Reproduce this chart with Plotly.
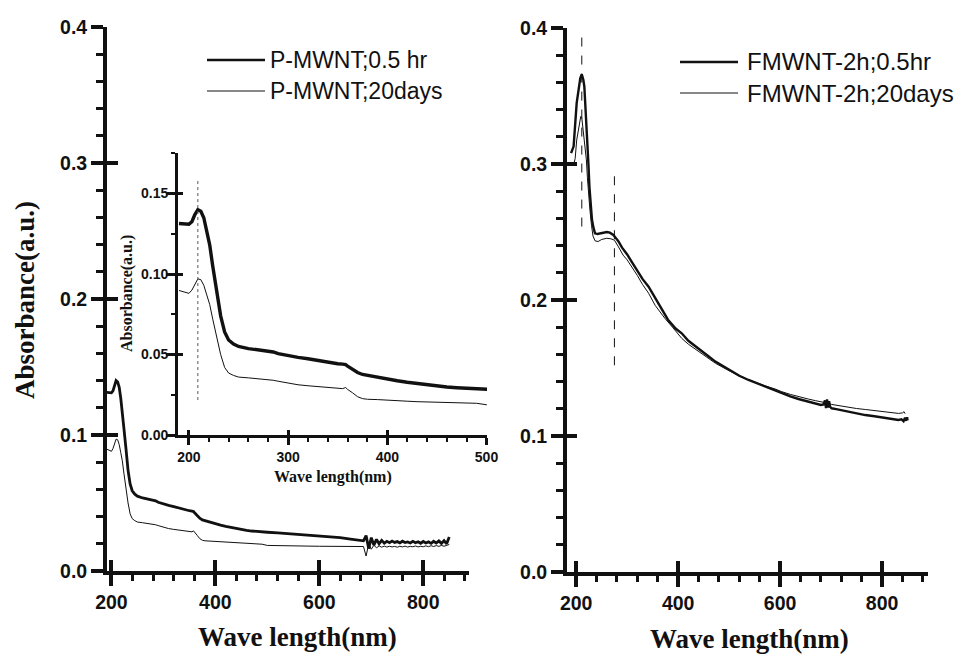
import plotly.graph_objects as go

# ---------------- data ----------------
# P-MWNT (left panel and inset)
wl_p = [190, 195, 200, 203, 206, 209, 212, 215, 218, 221, 224, 228, 232, 236, 240, 245, 250,
        260, 270, 280, 285, 290, 300, 310, 320, 330, 340, 350, 355, 358, 360, 365, 370, 375, 380,
        390, 400, 410, 420, 430, 440, 450, 460, 470, 480, 490, 500, 520, 540, 560, 580, 600,
        620, 640, 660, 680, 685, 690, 695, 700, 705, 710, 715, 720, 725, 730, 735, 740, 745,
        750, 755, 760, 765, 770, 775, 780, 785, 790, 795, 800, 805, 810, 815, 820, 825, 830,
        835, 840, 845, 850]
p_05hr = [0.1314, 0.1310, 0.1310, 0.1325, 0.1370, 0.1400, 0.1390, 0.1350, 0.1270, 0.1180,
          0.1050, 0.0900, 0.0740, 0.0640, 0.0590, 0.0565, 0.0550,
          0.0537, 0.0527, 0.0520, 0.0516, 0.0505, 0.0492, 0.0482, 0.0474, 0.0462, 0.0452,
          0.0443, 0.0440, 0.0437, 0.0428, 0.0408, 0.0388, 0.0376, 0.0370,
          0.0360, 0.0347, 0.0337, 0.0328, 0.0320, 0.0311, 0.0303, 0.0298, 0.0294, 0.0290,
          0.0288, 0.0285, 0.0280, 0.0275, 0.0270, 0.0265, 0.0260,
          0.0252, 0.0245, 0.0235, 0.0225, 0.0222, 0.0260, 0.0165, 0.0245, 0.0190, 0.0232,
          0.0200, 0.0225, 0.0205, 0.0218, 0.0208, 0.0220, 0.0210,
          0.0216, 0.0207, 0.0219, 0.0209, 0.0214, 0.0206, 0.0218, 0.0208, 0.0215, 0.0204,
          0.0217, 0.0206, 0.0214, 0.0203, 0.0218, 0.0205, 0.0221,
          0.0203, 0.0224, 0.0200, 0.0250]
p_20days = [0.0898, 0.0890, 0.0880, 0.0900, 0.0940, 0.0970, 0.0965, 0.0930, 0.0870, 0.0810,
            0.0720, 0.0600, 0.0500, 0.0420, 0.0385, 0.0370, 0.0360,
            0.0355, 0.0350, 0.0344, 0.0340, 0.0334, 0.0322, 0.0312, 0.0306, 0.0301, 0.0296,
            0.0291, 0.0288, 0.0295, 0.0283, 0.0262, 0.0238, 0.0226, 0.0222,
            0.0220, 0.0218, 0.0213, 0.0210, 0.0207, 0.0205, 0.0204, 0.0202, 0.0200, 0.0198,
            0.0197, 0.0188, 0.0188, 0.0185, 0.0184, 0.0183, 0.0182,
            0.0181, 0.0180, 0.0180, 0.0178, 0.0180, 0.0110, 0.0200, 0.0160, 0.0190, 0.0170,
            0.0185, 0.0175, 0.0183, 0.0176, 0.0182, 0.0177, 0.0181,
            0.0175, 0.0182, 0.0177, 0.0183, 0.0176, 0.0181, 0.0178, 0.0184, 0.0177, 0.0182,
            0.0178, 0.0185, 0.0179, 0.0186, 0.0180, 0.0187, 0.0181,
            0.0188, 0.0182, 0.0189, 0.0195]

# FMWNT-2h (right panel)
wl_f05 = [190, 195, 201, 205, 208, 211, 214, 216, 219, 221, 224, 226, 229, 231, 234, 237, 242,
          247, 253, 260, 266, 273, 278, 283, 290, 300, 309, 320, 330, 342, 355, 368, 380, 395,
          407, 420, 440, 460, 473, 490, 505, 520, 538, 555, 571, 590, 603, 620, 636, 655, 669,
          680, 685, 688, 690, 692, 694, 696, 698, 701, 710, 720, 734, 750, 767, 785, 799, 815,
          832, 838, 842, 845, 847, 849, 850]
f_05hr = [0.308, 0.313, 0.345, 0.356, 0.363, 0.366, 0.362, 0.357, 0.338, 0.320, 0.300, 0.283,
          0.268, 0.259, 0.253, 0.249, 0.2485, 0.249, 0.2495, 0.250, 0.2495, 0.2478, 0.2455,
          0.243, 0.2385, 0.2335, 0.228, 0.2215, 0.2155, 0.2098, 0.2015, 0.1926, 0.1855, 0.1790,
          0.1755, 0.1700, 0.1645, 0.1585, 0.1547, 0.1508, 0.1473, 0.1443, 0.1412, 0.1386,
          0.1363, 0.1337, 0.1314, 0.1292, 0.1272, 0.1255, 0.1240, 0.1228, 0.1232, 0.1262,
          0.1205, 0.1270, 0.1210, 0.1255, 0.1215, 0.1204, 0.1198, 0.1190, 0.1179, 0.1166,
          0.1154, 0.1145, 0.1137, 0.1128, 0.1118, 0.1122, 0.1108, 0.1135, 0.1112, 0.1138, 0.1115]
wl_f20 = [196, 198, 201, 205, 209, 211, 214, 217, 220, 222, 224, 227, 230, 233, 237, 243, 250,
          260, 268, 275, 283, 292, 300, 309, 320, 330, 342, 355, 374, 390, 407, 420, 440, 460,
          473, 490, 505, 520, 538, 555, 571, 590, 603, 620, 636, 655, 669, 685, 690, 695, 701,
          720, 734, 750, 767, 785, 799, 815, 832, 840, 843, 845]
f_20days = [0.301, 0.304, 0.3176, 0.3275, 0.335, 0.334, 0.325, 0.313, 0.303, 0.290, 0.279,
            0.266, 0.255, 0.247, 0.2435, 0.243, 0.2445, 0.2454, 0.2450, 0.244, 0.239, 0.233,
            0.2295, 0.2245, 0.218, 0.2115, 0.205, 0.196, 0.1865, 0.1795, 0.1718, 0.1675, 0.162,
            0.1570, 0.1535, 0.1500, 0.1468, 0.1440, 0.1412, 0.1388, 0.1368, 0.1346, 0.1326,
            0.1306, 0.1288, 0.1272, 0.1260, 0.1248, 0.1254, 0.1240, 0.1232, 0.1219, 0.1210,
            0.1202, 0.1195, 0.1186, 0.1180, 0.1173, 0.1166, 0.1170, 0.1179, 0.1164]

# reference (peak) lines
peak_p = 209
peak_f1 = 211
peak_f2 = 275

labels_left = ["P-MWNT;0.5 hr", "P-MWNT;20days"]
labels_right = ["FMWNT-2h;0.5hr", "FMWNT-2h;20days"]
x_title = "Wave length(nm)"
y_title = "Absorbance(a.u.)"

# ---------------- figure ----------------
W, H = 970, 655
def px(x):
    return x / W
def py(y):
    return (H - y) / H

SANS = "Liberation Sans, Arial, sans-serif"
SERIF = "Liberation Serif, Times New Roman, serif"
BLK = "#111111"

fig = go.Figure()
# left main
fig.add_trace(go.Scatter(x=wl_p, y=p_05hr, mode="lines", line=dict(color=BLK, width=2.8),
                         xaxis="x", yaxis="y", showlegend=False, name=labels_left[0]))
fig.add_trace(go.Scatter(x=wl_p, y=p_20days, mode="lines", line=dict(color=BLK, width=1),
                         xaxis="x", yaxis="y", showlegend=False, name=labels_left[1]))
# right
fig.add_trace(go.Scatter(x=wl_f05, y=f_05hr, mode="lines", line=dict(color=BLK, width=2.4),
                         xaxis="x2", yaxis="y2", showlegend=False, name=labels_right[0]))
fig.add_trace(go.Scatter(x=wl_f20, y=f_20days, mode="lines", line=dict(color=BLK, width=1),
                         xaxis="x2", yaxis="y2", showlegend=False, name=labels_right[1]))
# inset
fig.add_trace(go.Scatter(x=wl_p, y=p_05hr, mode="lines", line=dict(color=BLK, width=3.4),
                         xaxis="x3", yaxis="y3", showlegend=False, name=labels_left[0]))
fig.add_trace(go.Scatter(x=wl_p, y=p_20days, mode="lines", line=dict(color=BLK, width=1),
                         xaxis="x3", yaxis="y3", showlegend=False, name=labels_left[1]))
# dummy traces for overlay (inside-tick) axes
for xa, ya in [("x4", "y4"), ("x5", "y5"), ("x6", "y6")]:
    fig.add_trace(go.Scatter(x=[None], y=[None], xaxis=xa, yaxis=ya, showlegend=False,
                             hoverinfo="skip"))

tickfont_main = dict(family=SANS, size=19.5, color=BLK, weight="bold")
tickfont_inset = dict(family=SANS, size=14, color=BLK, weight="bold")

dom_lx = [px(107), px(469)]
dom_ly = [py(571), py(27)]
dom_rx = [px(567), px(928)]
dom_ry = [py(572), py(28)]
dom_ix = [px(178), px(487)]
dom_iy = [py(435), py(153)]

rng_lx = [191.5, 888]
rng_rx = [182, 890]
rng_ix = [189, 500.5]
rng_y = [0, 0.4]
rng_iy = [0, 0.1752]

LW = 3.8
TW = 3.6

def main_x(domain, rng, anchor):
    return dict(domain=domain, range=rng, anchor=anchor, showline=True, linewidth=LW,
                linecolor=BLK, ticks="outside", ticklen=11, tickwidth=TW, tickcolor=BLK,
                tickvals=[200, 400, 600, 800], tickfont=tickfont_main, showgrid=False,
                zeroline=False, automargin=False,
                minor=dict(dtick=40, tick0=0, ticks="outside", ticklen=6, tickwidth=3,
                           tickcolor=BLK, showgrid=False))

def main_y(domain, anchor):
    return dict(domain=domain, range=rng_y, anchor=anchor, showline=True, linewidth=LW,
                linecolor=BLK, ticks="outside", ticklen=12, tickwidth=TW, tickcolor=BLK,
                tickvals=[0, 0.1, 0.2, 0.3, 0.4], ticktext=["0.0", "0.1", "0.2", "0.3", "0.4"],
                tickfont=tickfont_main, showgrid=False, zeroline=False, automargin=False,
                minor=dict(dtick=0.02, tick0=0, ticks="outside", ticklen=7, tickwidth=3,
                           tickcolor=BLK, showgrid=False))

def over_x(base, rng, anchor, tv, ln, w):
    return dict(overlaying=base, range=rng, anchor=anchor, side="bottom", showline=False,
                ticks="inside", ticklen=ln, tickwidth=w, tickcolor=BLK, tickvals=tv,
                showticklabels=False, showgrid=False, zeroline=False, automargin=False)

def over_y(base, rng, anchor, tv, ln, w):
    return dict(overlaying=base, range=rng, anchor=anchor, side="left", showline=False,
                ticks="inside", ticklen=ln, tickwidth=w, tickcolor=BLK, tickvals=tv,
                showticklabels=False, showgrid=False, zeroline=False, automargin=False)

fig.update_layout(
    width=W, height=H, margin=dict(l=0, r=0, t=0, b=0, autoexpand=False),
    paper_bgcolor="white", plot_bgcolor="rgba(0,0,0,0)",
    xaxis=main_x(dom_lx, rng_lx, "y"),
    yaxis=main_y(dom_ly, "x"),
    xaxis2=main_x(dom_rx, rng_rx, "y2"),
    yaxis2=main_y(dom_ry, "x2"),
    xaxis3=dict(domain=dom_ix, range=rng_ix, anchor="y3", showline=True, linewidth=2.8,
                linecolor=BLK, ticks="outside", ticklen=7, tickwidth=2.6, tickcolor=BLK,
                tickvals=[200, 300, 400, 500], tickfont=tickfont_inset, showgrid=False,
                zeroline=False, automargin=False,
                minor=dict(dtick=20, tick0=0, ticks="outside", ticklen=4, tickwidth=2,
                           tickcolor=BLK, showgrid=False)),
    yaxis3=dict(domain=dom_iy, range=rng_iy, anchor="x3", showline=True, linewidth=2.8,
                linecolor=BLK, ticks="outside", ticklen=9, tickwidth=2.6, tickcolor=BLK,
                tickvals=[0, 0.05, 0.10, 0.15], ticktext=["0.00", "0.05", "0.10", "0.15"],
                tickfont=tickfont_inset, showgrid=False, zeroline=False, automargin=False,
                ticklabelstandoff=-5,
                minor=dict(dtick=0.025, tick0=0, ticks="outside", ticklen=4, tickwidth=2,
                           tickcolor=BLK, showgrid=False)),
    xaxis4=over_x("x", rng_lx, "y", [200, 400, 600, 800], 11, TW),
    yaxis4=over_y("y", rng_y, "x", [0, 0.1, 0.2, 0.3, 0.4], 11, TW),
    xaxis5=over_x("x2", rng_rx, "y2", [200, 400, 600, 800], 11, TW),
    yaxis5=over_y("y2", rng_y, "x2", [0, 0.1, 0.2, 0.3, 0.4], 10, TW),
    xaxis6=over_x("x3", rng_ix, "y3", [200, 300, 400, 500], 5, 2.6),
    yaxis6=over_y("y3", rng_iy, "x3", [0, 0.05, 0.10, 0.15], 5, 2.6),
)

# reference lines
fig.add_shape(type="line", xref="x3", yref="y3", x0=peak_p, x1=peak_p, y0=0.0217, y1=0.158,
              line=dict(color="#555555", width=1, dash="dot"))
fig.add_shape(type="line", xref="x2", yref="y2", x0=peak_f1, x1=peak_f1, y0=0.254, y1=0.396,
              line=dict(color=BLK, width=1, dash="dash"))
fig.add_shape(type="line", xref="x2", yref="y2", x0=peak_f2, x1=peak_f2, y0=0.152, y1=0.294,
              line=dict(color=BLK, width=1, dash="dash"))

# legends (drawn manually)
def legend(x0, x1, ytop, ybot, tx, labels, size):
    fig.add_shape(type="line", xref="paper", yref="paper", x0=px(x0), x1=px(x1),
                  y0=py(ytop), y1=py(ytop), line=dict(color=BLK, width=2.6))
    fig.add_shape(type="line", xref="paper", yref="paper", x0=px(x0), x1=px(x1),
                  y0=py(ybot), y1=py(ybot), line=dict(color=BLK, width=1))
    for lab, yy in zip(labels, [ytop, ybot]):
        fig.add_annotation(text=lab, xref="paper", yref="paper", x=px(tx), y=py(yy),
                           xanchor="left", yanchor="middle", showarrow=False,
                           font=dict(family=SANS, size=size, color=BLK))

legend(207, 265, 60, 91, 268, labels_left, 23)
legend(680, 738, 62, 93, 745, labels_right, 24)

# axis titles
def title(text, x, y, size, angle=0):
    fig.add_annotation(text=text, xref="paper", yref="paper", x=px(x), y=py(y),
                       xanchor="center", yanchor="middle", showarrow=False, textangle=angle,
                       font=dict(family=SERIF, size=size, color=BLK, weight="bold"))

title(x_title, 297, 637, 27)
title(x_title, 749, 639, 27)
title(y_title, 25, 300, 27, -90)
title(x_title, 333, 477, 16)
title(y_title, 127, 294, 16, -90)

fig.write_html("out.html", config={"displayModeBar": False},
               post_script="document.body.style.margin='0';document.body.style.overflow='hidden';")
